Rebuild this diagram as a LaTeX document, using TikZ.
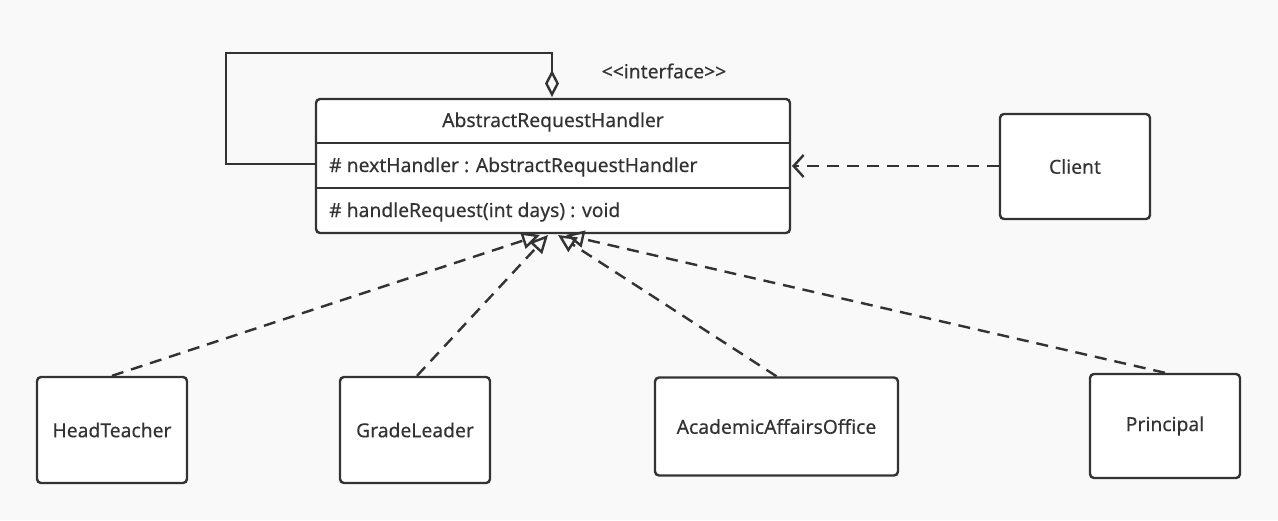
\documentclass[tikz,border=0pt]{standalone}
\usepackage{fontspec}
\setmainfont[FakeBold=0.3]{Noto Sans}
\usetikzlibrary{arrows.meta,calc}
\definecolor{bg}{HTML}{F9F9F9}
\definecolor{ink}{HTML}{333333}
\begin{document}
\begin{tikzpicture}[x=1pt,y=-1pt,
  box/.style={draw=ink, fill=white, line width=2.4pt, rounded corners=4pt, inner sep=0pt, font=\fontsize{19.3}{22}\selectfont, text=ink},
  txt/.style={font=\fontsize{19.3}{22}\selectfont, text=ink, inner sep=0pt},
  conn/.style={draw=ink, line width=2.4pt},
  dep/.style={conn, dash pattern=on 12pt off 8pt},
  real/.style={dep, -{Triangle[open, length=18pt, width=17pt, line width=2.4pt]}},
  use/.style={dep, -{Straight Barb[length=10pt, width=22pt, line width=2.4pt]}},
  agg/.style={conn, -{Diamond[open, length=27pt, width=14pt, line width=2.4pt]}}]
\fill[bg] (0,0) rectangle (1278,520);
\useasboundingbox (0,0) rectangle (1278,520);

% main class
\node[box, minimum width=474pt, minimum height=134pt] (main) at (553,166) {};
\draw[conn] (316,143) -- (790,143);
\draw[conn] (316,188) -- (790,188);
\node[txt] (title) at (553,122) {AbstractRequestHandler};
\node[txt, anchor=west] (attr) at (329,167) {\# nextHandler : AbstractRequestHandler};
\node[txt, anchor=west] (meth) at (329,212) {\# handleRequest(int days) : void};
\node[txt] (stereo) at (664,71) {{<}{<}interface{>}{>}};

% other nodes
\node[box, minimum width=150pt, minimum height=105pt] (client) at (1075,166.5) {Client};
\node[box, minimum width=150pt, minimum height=106pt] (ht) at (112,430) {HeadTeacher};
\node[box, minimum width=150pt, minimum height=106pt] (gl) at (415,430) {GradeLeader};
\node[box, minimum width=243pt, minimum height=98pt] (aao) at (776.5,426.5) {AcademicAffairsOffice};
\node[box, minimum width=150pt, minimum height=104pt] (pr) at (1165,426) {Principal};

% self aggregation loop
\coordinate (loopA) at (316,164);
\coordinate (loopB) at (552,97);
\draw[agg] (loopA) -- (226,164) -- (226,53) -- (552,53) -- (loopB);

% client dependency
\coordinate (depEnd) at (792,166);
\draw[use] (client.west |- depEnd) -- (depEnd);

% realizations
\coordinate (t1) at (540,235);
\coordinate (t2) at (548,235);
\coordinate (t3) at (558,235);
\coordinate (t4) at (566,235);
\draw[real] (ht.north) -- (t1);
\draw[real] ($(gl.north)+(2,0)$) -- (t2);
\draw[real] (aao.north) -- (t3);
\draw[real] (pr.north) -- (t4);
\end{tikzpicture}
\end{document}
